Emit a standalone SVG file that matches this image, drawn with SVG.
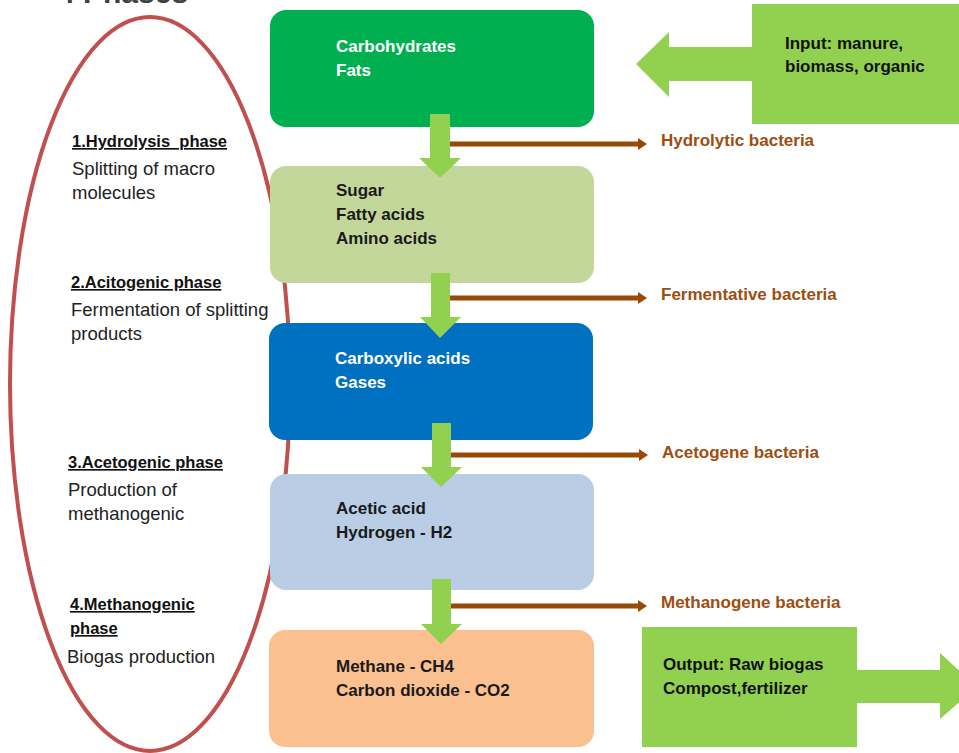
<svg xmlns="http://www.w3.org/2000/svg" width="959" height="753" viewBox="0 0 959 753">
<defs>
<style>
text{font-family:"Liberation Sans",Arial,sans-serif;}
.bx{font-size:17px;font-weight:bold;}
.wt{fill:#ffffff;}
.dk{fill:#1a1a1a;}
.hd{font-size:16.5px;font-weight:bold;fill:#111111;text-decoration:underline;}
.rg{font-size:18.5px;fill:#222222;}
.bl{font-size:17px;font-weight:bold;fill:#9E4D10;}
.io{font-size:17px;font-weight:bold;fill:#111111;}
.garrow{fill:#92D050;}
.bline{stroke:#984807;stroke-width:5;fill:none;}
.bhead{fill:#984807;}
</style>
</defs>
<rect width="959" height="753" fill="#ffffff"/>

<g id="title"><text x="58" y="3" style="font-size:30px;font-weight:bold;fill:#404040;">4 Phases</text></g>

<g id="phase-ellipse"><ellipse cx="150" cy="384" rx="140" ry="367" fill="none" stroke="#C0504D" stroke-width="4"/></g>

<g id="phase1">
<text class="hd" x="72" y="147" xml:space="preserve">1.Hydrolysis  phase</text>
<text class="rg" x="72" y="175">Splitting of macro</text>
<text class="rg" x="72" y="199">molecules</text>
</g>
<g id="phase2">
<text class="hd" x="71" y="288">2.Acitogenic phase</text>
<text class="rg" x="71" y="316">Fermentation of splitting</text>
<text class="rg" x="71" y="340">products</text>
</g>
<g id="phase3">
<text class="hd" x="68" y="468">3.Acetogenic phase</text>
<text class="rg" x="68" y="496">Production of</text>
<text class="rg" x="68" y="520">methanogenic</text>
</g>
<g id="phase4">
<text class="hd" x="70" y="610">4.Methanogenic</text>
<text class="hd" x="70" y="634">phase</text>
<text class="rg" x="67" y="663">Biogas production</text>
</g>

<g id="box1">
<rect x="270" y="10" width="324" height="117" rx="16" fill="#00B050"/>
<text class="bx wt" x="336" y="52">Carbohydrates</text>
<text class="bx wt" x="336" y="76">Fats</text>
</g>
<g id="box2">
<rect x="270" y="166" width="324" height="117" rx="16" fill="#C4D79B"/>
<text class="bx dk" x="336" y="196">Sugar</text>
<text class="bx dk" x="336" y="220">Fatty acids</text>
<text class="bx dk" x="336" y="244">Amino acids</text>
</g>
<g id="box3">
<rect x="269" y="323" width="324" height="117" rx="16" fill="#0070C0"/>
<text class="bx wt" x="335" y="364">Carboxylic acids</text>
<text class="bx wt" x="335" y="388">Gases</text>
</g>
<g id="box4">
<rect x="270" y="474" width="324" height="116" rx="16" fill="#B9CDE5"/>
<text class="bx dk" x="336" y="514">Acetic acid</text>
<text class="bx dk" x="336" y="538">Hydrogen - H2</text>
</g>
<g id="box5">
<rect x="269" y="630" width="325" height="117" rx="16" fill="#FAC090"/>
<text class="bx dk" x="336" y="672">Methane - CH4</text>
<text class="bx dk" x="336" y="696">Carbon dioxide - CO2</text>
</g>

<g id="input">
<polygon class="garrow" points="752,4 959,4 959,124 752,124 752,81 669,81 669,97 636,64 669,32 669,47 752,47"/>
<text class="io" x="785" y="49">Input: manure,</text>
<text class="io" x="785" y="72">biomass, organic</text>
</g>
<g id="output">
<polygon class="garrow" points="642,627 857,627 857,670 940,670 940,653 977,687 940,719 940,703 857,703 857,747 642,747"/>
<text class="io" x="663" y="670">Output: Raw biogas</text>
<text class="io" x="663" y="694">Compost,fertilizer</text>
</g>

<g id="labels">
<text class="bl" x="661" y="146">Hydrolytic bacteria</text>
<text class="bl" x="661" y="300">Fermentative bacteria</text>
<text class="bl" x="662" y="458">Acetogene bacteria</text>
<text class="bl" x="661" y="608">Methanogene bacteria</text>
</g>

<g id="connectors">
<polygon class="garrow" points="430,114 450,114 450,158 461,158 440,178 419,158 430,158"/>
<polygon class="garrow" points="431,273 450,273 450,317 461,317 440,338 420,317 431,317"/>
<polygon class="garrow" points="432,423 451,423 451,467 462,467 441,487 421,467 432,467"/>
<polygon class="garrow" points="432,579 451,579 451,624 462,624 441,644 421,624 432,624"/>

<line class="bline" x1="450" y1="144" x2="639" y2="144"/>
<polygon class="bhead" points="638,138 647,144 638,150"/>
<line class="bline" x1="450" y1="298" x2="639" y2="298"/>
<polygon class="bhead" points="638,292 647,298 638,304"/>
<line class="bline" x1="451" y1="455" x2="640" y2="455"/>
<polygon class="bhead" points="639,449 648,455 639,461"/>
<line class="bline" x1="451" y1="606" x2="639" y2="606"/>
<polygon class="bhead" points="638,600 647,606 638,612"/>
</g>
</svg>
